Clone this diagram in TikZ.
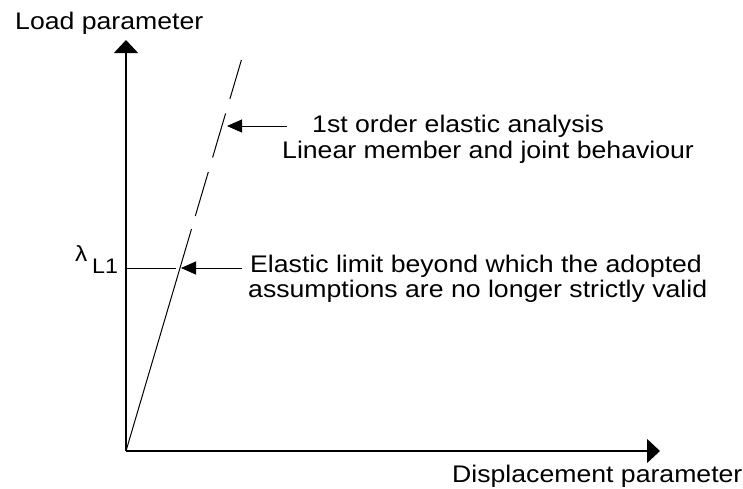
\documentclass[tikz,border=0pt]{standalone}
\usepackage{fontspec}
\setmainfont{Liberation Sans}[FakeStretch=1.11]
\usetikzlibrary{arrows.meta}
\begin{document}
\begin{tikzpicture}[x=1pt,y=-1pt,
  axis/.style={line width=1.2pt,-{Triangle[length=13pt,width=24pt]}},
  curve/.style={line width=1pt},
  larrow/.style={line width=1pt,-{Triangle[length=15pt,width=13pt]}},
  txt/.style={inner sep=0pt,anchor=base west,font=\fontsize{24}{26}\selectfont}]
\useasboundingbox (0,0) rectangle (743,488);
\coordinate (O) at (126,451);
\coordinate (ytip) at (126,40);
\coordinate (xtip) at (660,451);
\coordinate (s1) at (191.5,229);
\coordinate (s2) at (195.3,216);
\coordinate (top) at (241.4,60);
\coordinate (hl) at (126,268);
\coordinate (hr) at (176,268);
\coordinate (p1) at (227,126);
\coordinate (a1) at (287,126);
\coordinate (p2) at (181,268);
\coordinate (a2) at (242,268);
\draw[axis] (O) -- (ytip);
\draw[axis] (O) -- (xtip);
\draw[curve] (O) -- (s1);
\draw[curve,dash pattern=on 46pt off 15pt] (s2) -- (top);
\draw[line width=0.8pt] (hl) -- (hr);
\draw[larrow] (a1) -- (p1);
\draw[larrow] (a2) -- (p2);
\node[txt] (ylab) at (15,29) {Load parameter};
\node[txt] (xlab) at (452,482) {Displacement parameter};
\node[txt] (t1a) at (312,132) {1st order elastic analysis};
\node[txt] (t1b) at (282,158) {Linear member and joint behaviour};
\node[txt] (t2a) at (250,272) {Elastic limit beyond which the adopted};
\node[txt] (t2b) at (248,297) {assumptions are no longer strictly valid};
\node[inner sep=0pt,anchor=base west,font=\fontsize{22}{24}\selectfont] (lam) at (75,261) {λ};
\node[inner sep=0pt,anchor=base west,font=\fontsize{21}{23}\selectfont] (lsub) at (92,273) {L1};
\end{tikzpicture}
\end{document}
